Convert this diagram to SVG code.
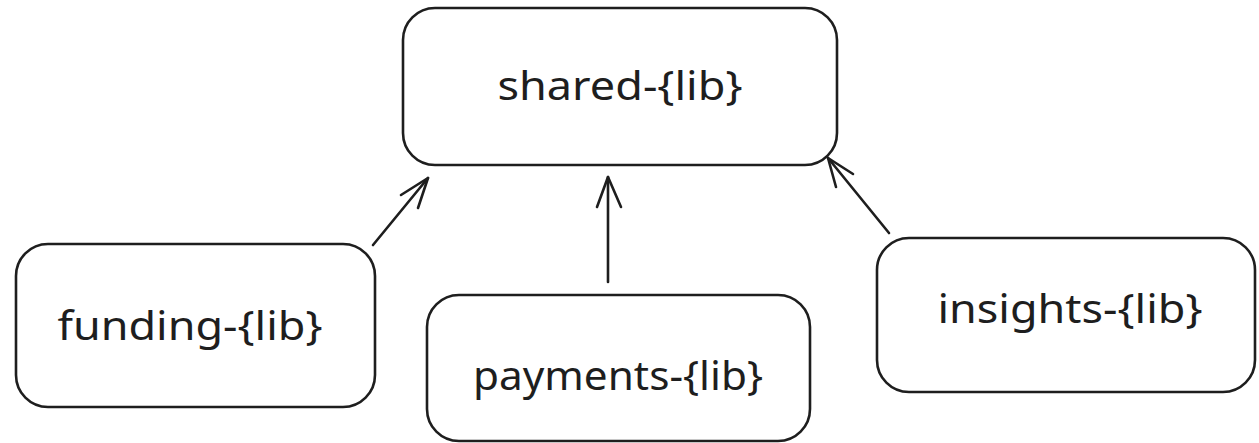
<svg xmlns="http://www.w3.org/2000/svg" width="1259" height="443" viewBox="0 0 1259 443">
  <style>
    .box { fill: #ffffff; stroke: #1e1e1e; stroke-width: 2.6; stroke-linejoin: round; }
    .label { font-family: "Noto Sans", "DejaVu Sans", sans-serif; font-size: 40px; fill: #1e1e1e; text-anchor: middle; }
    .edge { fill: none; stroke: #1e1e1e; stroke-width: 2.6; stroke-linecap: round; stroke-linejoin: round; }
  </style>
  <rect width="1259" height="443" fill="#ffffff"/>

  <g id="shared-lib">
    <rect class="box" x="403" y="8" width="434" height="157" rx="32"/>
    <text class="label" x="620" y="100" textLength="245" lengthAdjust="spacingAndGlyphs">shared-{lib}</text>
  </g>

  <g id="funding-lib">
    <rect class="box" x="16" y="244" width="359" height="163" rx="32"/>
    <text class="label" x="190" y="340" textLength="265" lengthAdjust="spacingAndGlyphs">funding-{lib}</text>
  </g>

  <g id="payments-lib">
    <rect class="box" x="427" y="295" width="383" height="146" rx="32"/>
    <text class="label" x="618" y="390" textLength="290" lengthAdjust="spacingAndGlyphs">payments-{lib}</text>
  </g>

  <g id="insights-lib">
    <rect class="box" x="877" y="238" width="378" height="154" rx="32"/>
    <text class="label" x="1070" y="323" textLength="265" lengthAdjust="spacingAndGlyphs">insights-{lib}</text>
  </g>

  <g id="connectors">
    <!-- funding -> shared -->
    <path class="edge" d="M373 245 L428 178"/>
    <path class="edge" d="M401 195 L428 178 L418 208"/>
    <!-- payments -> shared -->
    <path class="edge" d="M608 282 L608 177"/>
    <path class="edge" d="M597 207 L608 177 L621 207"/>
    <!-- insights -> shared -->
    <path class="edge" d="M889 233 L828 158"/>
    <path class="edge" d="M853 174 L828 158 L836 187"/>
  </g>
</svg>
